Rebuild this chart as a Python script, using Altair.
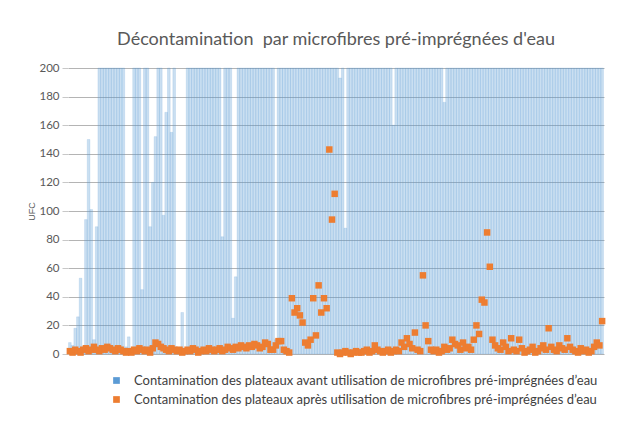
import altair as alt
import pandas as pd

N = 200
SERIES_BEFORE = "Contamination des plateaux avant utilisation de microfibres pré-imprégnées d’eau"
SERIES_AFTER = "Contamination des plateaux après utilisation de microfibres pré-imprégnées d’eau"

# Blue bars (before): most are capped at 200; overrides
before = [200] * N
before_overrides = {
    0: 8, 1: 6, 2: 18, 3: 26, 4: 53, 5: 5, 6: 94, 7: 150, 8: 101, 9: 10, 10: 89,
    21: 5, 22: 12, 23: 3, 27: 45, 30: 89, 31: 120, 32: 152, 35: 97, 36: 169,
    38: 155, 40: 2, 41: 2, 42: 29, 43: 3, 57: 82, 61: 25, 62: 54, 77: 10,
    101: 193, 103: 88, 121: 160, 140: 176,
}
for k, v in before_overrides.items():
    before[k] = v

# Orange squares (after)
after = [
    2, 1, 3, 2, 1, 3, 4, 2, 3, 5, 3, 2, 4, 3, 5, 4, 3, 2, 4, 3,
    2, 1, 2, 1, 3, 2, 4, 3, 2, 3, 1, 4, 8, 7, 5, 4, 3, 2, 4, 3,
    2, 3, 1, 2, 3, 2, 4, 3, 1, 2, 3, 2, 4, 3, 2, 3, 4, 2, 3, 5,
    4, 3, 5, 4, 6, 5, 4, 6, 5, 7, 6, 4, 5, 8, 7, 3, 3, 6, 9, 9,
    3, 2, 1, 39, 29, 32, 27, 22, 8, 6, 10, 39, 13, 48, 29, 39, 32, 143, 94, 112,
    1, 0, 1, 2, 1, 0, 1, 2, 1, 1, 2, 3, 1, 2, 6, 3, 2, 1, 2, 3,
    1, 2, 3, 2, 8, 5, 11, 7, 4, 15, 3, 2, 55, 20, 9, 3, 2, 3, 1, 2,
    5, 3, 4, 10, 7, 6, 3, 8, 4, 5, 3, 10, 20, 14, 38, 36, 85, 61, 10, 6,
    4, 3, 8, 5, 2, 11, 3, 2, 10, 4, 1, 2, 3, 5, 1, 2, 4, 6, 3, 18,
    5, 3, 2, 6, 4, 3, 11, 5, 3, 2, 1, 4, 2, 3, 1, 2, 5, 8, 6, 23,
]
y_ticks = [0, 20, 40, 60, 80, 100, 120, 140, 160, 180, 200]

idx = list(range(N))
df_before = pd.DataFrame({"i": idx, "v": before, "s": SERIES_BEFORE})
df_after = pd.DataFrame({"i": idx, "v": after, "s": SERIES_AFTER})

color = alt.Color(
    "s:N",
    scale=alt.Scale(domain=[SERIES_BEFORE, SERIES_AFTER], range=["#5b9bd5", "#ed7d31"]),
    legend=alt.Legend(
        title=None, orient="none", legendX=42, legendY=306, symbolType="square",
        symbolSize=45, symbolOpacity=1, labelFontSize=13, labelColor="#404040",
        labelFont="Lato", rowPadding=5, labelLimit=700, symbolStrokeWidth=0,
        labelOffset=11,
    ),
)

x = alt.X("i:O", axis=alt.Axis(labels=False, ticks=False, title=None, domain=False, grid=False),
          scale=alt.Scale(paddingInner=0, paddingOuter=0.2))
y = alt.Y("v:Q", scale=alt.Scale(domain=[0, 200]),
          axis=alt.Axis(values=y_ticks, tickCount=20, labelOverlap=False, title="UFC",
                        titleFontSize=9, titleColor="#595959", titleFontWeight="normal",
                        titlePadding=2, labelColor="#595959", labelFontSize=11.5,
                        labelFont="Lato", domain=False, tickColor="#c8c8c8", tickSize=6,
                        gridColor="#b4b4b4", labelPadding=3))

bars = alt.Chart(df_before).mark_bar(
    fillOpacity=0.32, stroke="#5b9bd5", strokeOpacity=0.35, strokeWidth=0.5
).encode(x=x, y=y, color=color)

points = alt.Chart(df_after).mark_square(size=42, opacity=1).encode(x=x, y=y, color=color)

chart = alt.layer(bars, points).properties(
    width=536, height=286,
    title=alt.Title("Décontamination\u00a0 par microfibres pré-imprégnées d'eau",
                    fontSize=18, font="Lato", fontWeight="normal", color="#595959", offset=13),
    autosize=alt.AutoSizeParams(type="none"),
    padding={"left": 60, "top": 60, "right": 27, "bottom": 71},
).configure_view(stroke=None)

chart.save("out.html", embed_options={"renderer": "svg", "actions": False})
